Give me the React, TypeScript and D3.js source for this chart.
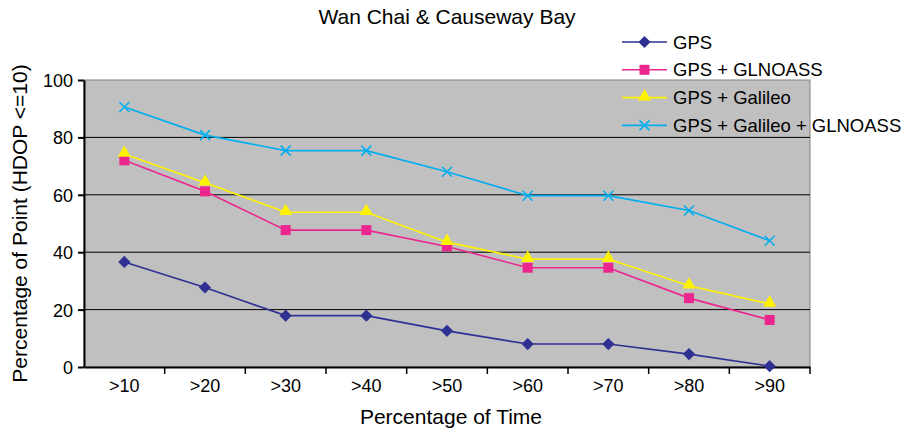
import { useEffect, useRef } from "react";
import * as d3 from "d3";

const categories = [">10", ">20", ">30", ">40", ">50", ">60", ">70", ">80", ">90"];
const gps = [36.6, 27.7, 17.9, 17.9, 12.6, 8, 8, 4.5, 0.3];
const gpsGlonass = [72, 61.2, 47.7, 47.7, 42, 34.6, 34.6, 24, 16.4];
const gpsGalileo = [74.2, 64.2, 53.9, 53.9, 43.5, 37.6, 37.6, 28.3, 22];
const gpsGalileoGlonass = [90.6, 80.8, 75.4, 75.4, 68, 59.7, 59.7, 54.5, 44];
const yTicks = [0, 20, 40, 60, 80, 100];

const series = [
  { name: "GPS", values: gps, color: "#2e3192", marker: "diamond" },
  { name: "GPS + GLNOASS", values: gpsGlonass, color: "#ec268f", marker: "square" },
  { name: "GPS + Galileo", values: gpsGalileo, color: "#fff200", marker: "triangle" },
  { name: "GPS + Galileo + GLNOASS", values: gpsGalileoGlonass, color: "#00aeef", marker: "cross" },
];

const font = "'Liberation Sans', Arial, sans-serif";

function drawMarker(g: d3.Selection<SVGGElement, unknown, null, undefined>, kind: string, x: number, y: number, color: string) {
  if (kind === "diamond") {
    g.append("path").attr("d", d3.symbol(d3.symbolDiamond2, 95)()).attr("transform", `translate(${x},${y})`).attr("fill", color);
  } else if (kind === "square") {
    g.append("rect").attr("x", x - 5).attr("y", y - 5).attr("width", 10).attr("height", 10).attr("fill", color);
  } else if (kind === "triangle") {
    g.append("path").attr("d", d3.symbol(d3.symbolTriangle, 75)()).attr("transform", `translate(${x},${y - 1})`).attr("fill", color);
  } else {
    g.append("path")
      .attr("d", `M${x - 5},${y - 5}L${x + 5},${y + 5}M${x - 5},${y + 5}L${x + 5},${y - 5}`)
      .attr("stroke", color)
      .attr("stroke-width", 1.5)
      .attr("fill", "none");
  }
}

function drawChart(svgEl: SVGSVGElement) {
  const svg = d3.select(svgEl);
  svg.selectAll("*").remove();
  const left = 84;
  const right = 810;
  const top = 80;
  const bottom = 367;

  const x = d3.scaleBand().domain(categories).range([left, right]);
  const y = d3.scaleLinear().domain([0, 100]).range([bottom, top]);

  // plot background
  svg.append("rect")
    .attr("x", left).attr("y", top)
    .attr("width", right - left).attr("height", bottom - top)
    .attr("fill", "#c0c0c0").attr("stroke", "#808080").attr("stroke-width", 1);

  // gridlines
  svg.append("g")
    .selectAll("line")
    .data(yTicks.filter((t) => t > 0 && t < 100))
    .join("line")
    .attr("x1", left).attr("x2", right)
    .attr("y1", (d) => y(d)).attr("y2", (d) => y(d))
    .attr("stroke", "#000").attr("stroke-width", 1);

  // y axis
  const yAxis = svg.append("g")
    .attr("transform", `translate(${left},0)`)
    .call(d3.axisLeft(y).tickValues(yTicks).tickSize(6).tickSizeOuter(0));
  yAxis.attr("font-size", null).attr("font-family", null);
  yAxis.select(".domain").attr("stroke-width", 2);
  yAxis.selectAll("line").attr("stroke-width", 2);
  yAxis.selectAll("text")
    .attr("font-family", font).attr("font-size", 18).attr("fill", "#000")
    .attr("x", -11).attr("dy", "0.36em");

  // x axis
  const xAxis = svg.append("g")
    .attr("transform", `translate(0,${bottom})`)
    .call(d3.axisBottom(x).tickSize(0).tickSizeOuter(0));
  xAxis.attr("font-size", null).attr("font-family", null);
  xAxis.select(".domain").attr("stroke-width", 2);
  xAxis.selectAll("text")
    .attr("font-family", font).attr("font-size", 18).attr("fill", "#000")
    .attr("y", 25).attr("dy", null);
  xAxis.selectAll("line.sep")
    .data(categories.slice(1).concat(["end"]))
    .join("line")
    .attr("x1", (d) => (d === "end" ? right : x(d)!)).attr("x2", (d) => (d === "end" ? right : x(d)!))
    .attr("y1", 0).attr("y2", 7)
    .attr("stroke", "#000").attr("stroke-width", 1.5);

  const cx = (i: number) => x(categories[i])! + x.bandwidth() / 2;
  const line = d3.line<number>().x((_, i) => cx(i)).y((d) => y(d));

  series.forEach((s) => {
    const g = svg.append("g");
    g.append("path").attr("d", line(s.values)).attr("fill", "none").attr("stroke", s.color).attr("stroke-width", 1.6);
    s.values.forEach((v, i) => drawMarker(g, s.marker, cx(i), y(v), s.color));
  });

  // legend
  const legend = svg.append("g").attr("transform", "translate(622,42)");
  series.forEach((s, i) => {
    const g = legend.append("g").attr("transform", `translate(0,${i * 27.8})`);
    g.append("line").attr("x1", 0).attr("x2", 45).attr("y1", 0).attr("y2", 0).attr("stroke", s.color).attr("stroke-width", 1.6);
    drawMarker(g as any, s.marker, 22.5, 0, s.color);
    g.append("text").attr("x", 51).attr("y", 6.5).attr("font-family", font).attr("font-size", 18.5).attr("fill", "#000").text(s.name);
  });

  // titles
  svg.append("text").attr("x", 447).attr("y", 24).attr("text-anchor", "middle")
    .attr("font-family", font).attr("font-size", 21).text("Wan Chai & Causeway Bay");
  svg.append("text").attr("x", 451).attr("y", 424).attr("text-anchor", "middle")
    .attr("font-family", font).attr("font-size", 21).text("Percentage of Time");
  svg.append("text").attr("transform", `translate(27,${(top + bottom) / 2}) rotate(-90)`).attr("text-anchor", "middle")
    .attr("font-family", font).attr("font-size", 21).text("Percentage of Point (HDOP <=10)");
}

export default function App() {
  const ref = useRef<SVGSVGElement>(null);
  useEffect(() => {
    if (ref.current) drawChart(ref.current);
  }, []);
  return (
    <svg
      ref={ref}
      width={912}
      height={432}
      style={{ position: "absolute", left: 0, top: 0, background: "#fff" }}
    />
  );
}
